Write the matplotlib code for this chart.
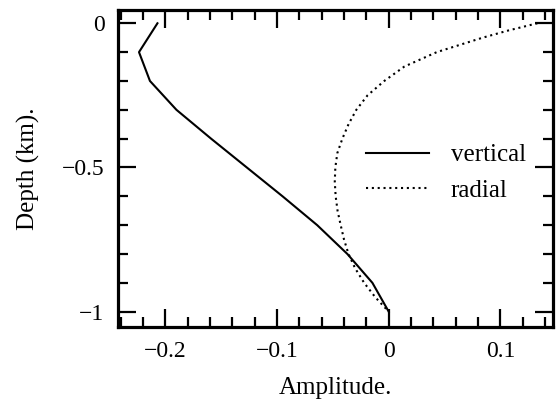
import matplotlib
matplotlib.use("Agg")
import matplotlib.pyplot as plt
from matplotlib.ticker import MultipleLocator, FixedLocator

plt.rcParams['font.family'] = ['Liberation Serif', 'DejaVu Serif']

# depth profile (km) and the two amplitude components
depth_vertical = [0.0, -0.1, -0.2, -0.3, -0.4, -0.5, -0.6, -0.7, -0.8, -0.9, -1.0]
amp_vertical = [-0.207, -0.2235, -0.2137, -0.190, -0.159, -0.127, -0.095, -0.064, -0.037, -0.0146, 0.0]

depth_radial = [0.0, -0.025, -0.05, -0.1, -0.15, -0.2, -0.25, -0.3, -0.35, -0.4, -0.45, -0.5,
                -0.55, -0.6, -0.65, -0.7, -0.75, -0.8, -0.85, -0.9, -0.95, -1.0]
amp_radial = [0.133, 0.107, 0.084, 0.043, 0.014, -0.004, -0.019, -0.029, -0.036, -0.0415, -0.046, -0.0478,
              -0.0483, -0.0475, -0.0458, -0.043, -0.040, -0.036, -0.030, -0.022, -0.012, 0.0]

xtick_vals = [-0.2, -0.1, 0.0, 0.1]
xtick_labels = ["\u22120.2", "\u22120.1", "0", "0.1"]
ytick_vals = [0.0, -0.5, -1.0]
ytick_labels = ["0", "\u22120.5", "\u22121"]

fig = plt.figure(figsize=(5.6, 4.07), dpi=100)
ax = fig.add_axes([0.2113, 0.1973, 0.7762, 0.7781])

ax.plot(amp_vertical, depth_vertical, color='black', lw=1.5, label='vertical')
ax.plot(amp_radial, depth_radial, color='black', lw=1.5,
        linestyle=(0, (1, 1.8)), label='radial')

ax.set_xlim(-0.242, 0.147)
ax.set_ylim(-1.052, 0.046)

ax.xaxis.set_major_locator(FixedLocator(xtick_vals))
ax.set_xticklabels(xtick_labels)
ax.xaxis.set_minor_locator(MultipleLocator(0.02))
ax.yaxis.set_major_locator(FixedLocator(ytick_vals))
ax.set_yticklabels(ytick_labels)
ax.yaxis.set_minor_locator(MultipleLocator(0.1))

ax.tick_params(which='both', direction='in', top=True, right=True, width=1.6, color='black')
ax.tick_params(which='major', length=13)
ax.tick_params(which='minor', length=7)
ax.tick_params(axis='x', which='major', labelsize=17, pad=10)
ax.tick_params(axis='y', which='major', labelsize=17, pad=10)

for sp in ax.spines.values():
    sp.set_linewidth(2.3)

ax.set_xlabel("Amplitude.", fontsize=18, labelpad=11)
ax.set_ylabel("Depth (km).", fontsize=18, labelpad=16)

ax.legend(loc='upper left', bbox_to_anchor=(0.569, 0.577), frameon=False, fontsize=18,
          handlelength=2.55, handletextpad=0.85, labelspacing=0.53, borderpad=0, borderaxespad=0)

fig.savefig("out.png", dpi=100)
